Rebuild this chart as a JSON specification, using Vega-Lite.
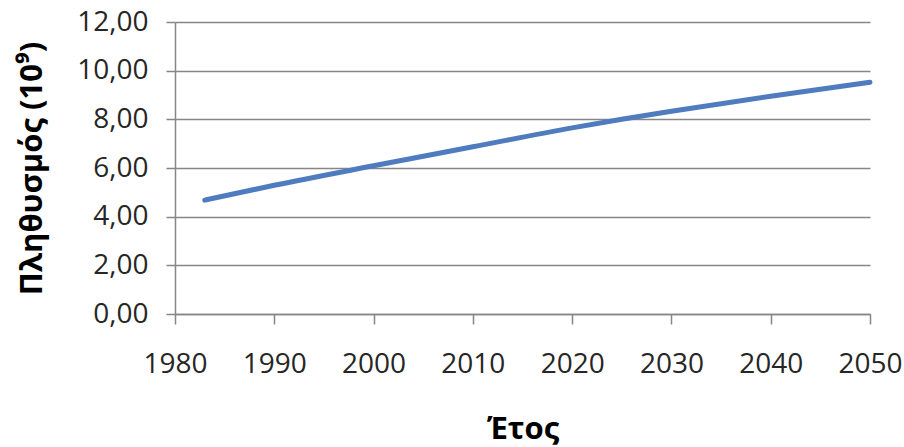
{
  "$schema": "https://vega.github.io/schema/vega-lite/v6.json",
  "autosize": "none",
  "width": 695,
  "height": 292,
  "padding": {"left": 175, "top": 22, "right": 34, "bottom": 133},
  "background": "white",
  "data": {
    "values": [
      {"year": 1983, "pop": 4.68},
      {"year": 1990, "pop": 5.29},
      {"year": 2000, "pop": 6.09},
      {"year": 2010, "pop": 6.87},
      {"year": 2020, "pop": 7.65},
      {"year": 2025, "pop": 8.0},
      {"year": 2030, "pop": 8.33},
      {"year": 2040, "pop": 8.95},
      {"year": 2050, "pop": 9.52}
    ]
  },
  "mark": {"type": "line", "color": "#4F7BBF", "strokeWidth": 5, "strokeCap": "round", "interpolate": "monotone"},
  "encoding": {
    "x": {
      "field": "year", "type": "quantitative",
      "scale": {"domain": [1980, 2050], "nice": false, "zero": false},
      "axis": {
        "title": "Έτος",
        "values": [1980, 1990, 2000, 2010, 2020, 2030, 2040, 2050],
        "format": "d",
        "grid": false,
        "tickSize": 10,
        "labelPadding": 26,
        "labelFlush": false,
        "labelOverlap": false,
        "labelBound": false,
        "titlePadding": 36
      }
    },
    "y": {
      "field": "pop", "type": "quantitative",
      "scale": {"domain": [0, 12], "nice": false},
      "axis": {
        "title": "Πληθυσμός (10⁹)",
        "values": [0, 2, 4, 6, 8, 10, 12],
        "labelExpr": "replace(format(datum.value, '.2f'), '.', ',')",
        "grid": true,
        "tickSize": 9,
        "labelPadding": 18,
        "labelFlush": false,
        "labelOverlap": false,
        "titlePadding": 28
      }
    }
  },
  "config": {
    "view": {"stroke": null},
    "axis": {
      "domainColor": "#868686",
      "tickColor": "#868686",
      "gridColor": "#868686",
      "domainWidth": 1.5,
      "tickWidth": 1.5,
      "gridWidth": 1.5,
      "labelFont": "Open Sans",
      "labelFontSize": 28,
      "labelColor": "#262626",
      "titleFont": "Open Sans",
      "titleFontSize": 31,
      "titleFontWeight": "bold",
      "titleColor": "#000000"
    }
  }
}
